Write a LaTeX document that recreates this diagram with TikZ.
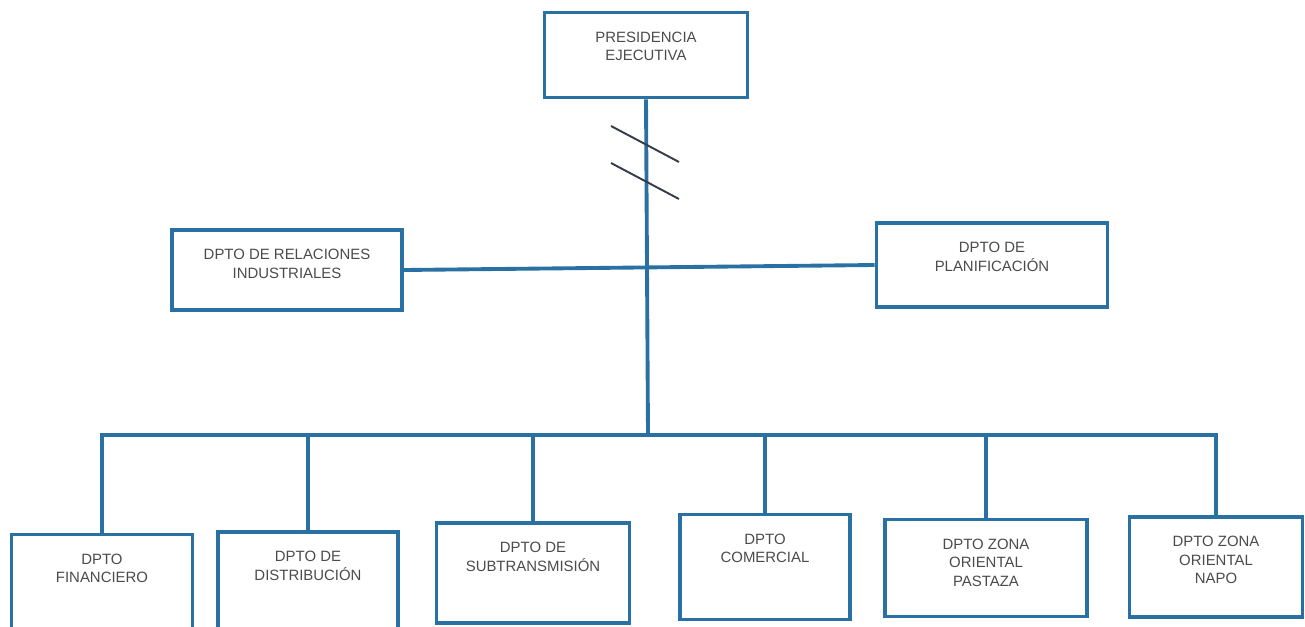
\documentclass[tikz,border=0pt]{standalone}
\usepackage{fontspec}
\setmainfont{Liberation Sans}
\usepackage{xcolor}
\usepackage{tikz}
\definecolor{orgblue}{RGB}{41,112,163}
\definecolor{txtgray}{RGB}{75,75,75}
\definecolor{markgray}{RGB}{55,60,70}

\begin{document}
\begin{tikzpicture}[
    x=0.02cm, y=-0.02cm,
    box/.style={draw=orgblue, line width=2.2pt, fill=white, inner sep=0pt},
    txt/.style={anchor=north, align=center, inner sep=0pt, text=txtgray,
                font=\fontsize{8.5}{10.5}\selectfont, yshift=-12pt},
    link/.style={draw=orgblue, line width=2.2pt},
    brk/.style={draw=markgray, line width=1.1pt},
]
    \useasboundingbox (0,0) rectangle (1305,626);

    % Top level
    \node[box, minimum width=4.06cm, minimum height=1.7cm,
          label={[txt]north:{PRESIDENCIA\\EJECUTIVA}}] (pres) at (646,55) {};

    % Staff departments
    \node[box, minimum width=4.6cm, minimum height=1.6cm,
          label={[txt]north:{DPTO DE RELACIONES\\INDUSTRIALES}}] (rel) at (287,270) {};
    \node[box, minimum width=4.62cm, minimum height=1.68cm,
          label={[txt]north:{DPTO DE\\PLANIFICACIÓN}}] (plan) at (992,265) {};

    % Line departments
    \node[box, minimum width=3.62cm, minimum height=1.9cm,
          label={[txt]north:{DPTO\\FINANCIERO}}] (fin) at (102,582) {};
    \node[box, minimum width=3.6cm, minimum height=2.0cm,
          label={[txt]north:{DPTO DE\\DISTRIBUCIÓN}}] (dist) at (308,582) {};
    \node[box, minimum width=3.86cm, minimum height=2.0cm,
          label={[txt]north:{DPTO DE\\SUBTRANSMISIÓN}}] (sub) at (533,573) {};
    \node[box, minimum width=3.4cm, minimum height=2.1cm,
          label={[txt]north:{DPTO\\COMERCIAL}}] (com) at (765,567) {};
    \node[box, minimum width=4.04cm, minimum height=1.94cm,
          label={[txt]north:{DPTO ZONA\\ORIENTAL\\PASTAZA}}] (pas) at (986,568) {};
    \node[box, minimum width=3.46cm, minimum height=2.0cm,
          label={[txt]north:{DPTO ZONA\\ORIENTAL\\NAPO}}] (napo) at (1216,567) {};

    % Connectors
    \coordinate (hub) at (648,435);
    \draw[link] (pres.south) -- (hub);
    \draw[link] (rel.east) -- (plan.west);
    \draw[link] (fin.north) |- (hub) -| (napo.north);
    \foreach \d in {dist,sub,com,pas}
        \draw[link] (\d.north) -- (\d.north |- hub);

    % Break marks
    \coordinate (brkA) at (645,144);
    \coordinate (brkB) at (645,181);
    \draw[brk] (brkA) ++(-34,-18) -- ++(68,36);
    \draw[brk] (brkB) ++(-34,-18) -- ++(68,36);
\end{tikzpicture}
\end{document}
